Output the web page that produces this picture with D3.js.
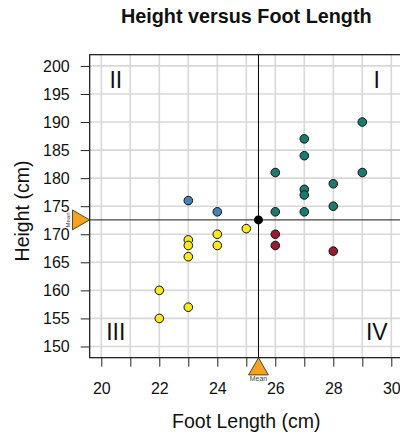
<!DOCTYPE html>
<html><head><meta charset="utf-8">
<script src="https://cdn.jsdelivr.net/npm/d3@7"></script>
<style>body{margin:0;background:#fff}svg{display:block}text{font-family:"Liberation Sans",Arial,sans-serif}</style>
</head><body>
<script>
const footLength = [23,24, 23,23,23,23,22,22,24,24,25, 26,26,27,27,27,27,27,28,28,29,29, 26,26,28];
const height     = [176,174, 169,168,166,157,160,155,170,168,171, 181,174,187,184,178,177,174,179,175,190,181, 170,168,167];
const meanFoot = 25.42, meanHeight = 172.56;
const xTicks = [20,21,22,23,24,25,26,27,28,29,30];
const xLabels = [20,22,24,26,28,30];
const yTicks = [150,155,160,165,170,175,180,185,190,195,200];
const quadLabels = ["I","II","III","IV"];
const quadPos = [[29.5,197.5],[20.5,197.5],[20.5,152.5],[29.5,152.5]];
const quadColors = {I:"#1b7a6d", II:"#4682b4", III:"#f8e81c", IV:"#9b1b30"};

const W=400,H=436;
const svg=d3.select("body").append("svg").attr("width",W).attr("height",H);
const x=d3.scaleLinear().domain([19.6,30.4]).range([89.7,402.9]);
const y=d3.scaleLinear().domain([148,202]).range([357.7,54.7]);
const L=x.range()[0],R=x.range()[1],T=y.range()[1],B=y.range()[0];

// grid
svg.append("g").selectAll("line").data(xTicks).join("line")
 .attr("x1",d=>x(d)).attr("x2",d=>x(d)).attr("y1",T).attr("y2",B)
 .attr("stroke","#d8d8d8").attr("stroke-width",1.6);
svg.append("g").selectAll("line").data(yTicks).join("line")
 .attr("y1",d=>y(d)).attr("y2",d=>y(d)).attr("x1",L).attr("x2",R)
 .attr("stroke","#d8d8d8").attr("stroke-width",1.6);

// quadrant labels
svg.append("g").selectAll("text").data(quadLabels).join("text")
 .attr("x",(d,i)=>x(quadPos[i][0])).attr("y",(d,i)=>y(quadPos[i][1]))
 .attr("text-anchor","middle").attr("dominant-baseline","central")
 .attr("font-size",23).attr("fill","#111").text(d=>d);

// mean lines
svg.append("line").attr("x1",L).attr("x2",R).attr("y1",y(meanHeight)).attr("y2",y(meanHeight))
 .attr("stroke","#444").attr("stroke-width",1.3);
svg.append("line").attr("x1",x(meanFoot)).attr("x2",x(meanFoot)).attr("y1",T).attr("y2",B)
 .attr("stroke","#000").attr("stroke-width",1);

// points
const quad=(fx,hy)=> hy>=meanHeight ? (fx>=meanFoot?"I":"II") : (fx<meanFoot?"III":"IV");
svg.append("g").selectAll("circle").data(footLength.map((f,i)=>({f,h:height[i]}))).join("circle")
 .attr("cx",d=>x(d.f)).attr("cy",d=>y(d.h)).attr("r",4.3)
 .attr("fill",d=>quadColors[quad(d.f,d.h)]).attr("stroke","#111").attr("stroke-width",1);
svg.append("circle").attr("cx",x(meanFoot)).attr("cy",y(meanHeight)).attr("r",4.5).attr("fill","#000");

// box
svg.append("rect").attr("x",L).attr("y",T).attr("width",R-L).attr("height",B-T)
 .attr("fill","none").attr("stroke","#111").attr("stroke-width",1.2);

// axes
const xa=svg.append("g").attr("transform",`translate(0,${B})`)
 .call(d3.axisBottom(x).tickValues(xTicks).tickSize(9).tickFormat(d=>xLabels.includes(d)?d:""));
const ya=svg.append("g").attr("transform",`translate(${L},0)`)
 .call(d3.axisLeft(y).tickValues(yTicks).tickSize(9).tickPadding(11));
[xa,ya].forEach(a=>{a.select(".domain").remove();a.selectAll("line").attr("stroke","#222");
 a.selectAll("text").attr("font-family","Liberation Sans, Arial, sans-serif").attr("font-size",16).attr("fill","#111");});
xa.selectAll("text").attr("dy","0.71em").attr("y",25);

// mean triangles
const tri=d3.symbol().type(d3.symbolTriangle).size(170);
svg.append("path").attr("d",tri()).attr("transform",`translate(${x(meanFoot)},${B+11.5})`)
 .attr("fill","#f6a21d").attr("stroke","#222").attr("stroke-width",0.8);
svg.append("path").attr("d",tri()).attr("transform",`translate(${L-11.5},${y(meanHeight)}) rotate(90)`)
 .attr("fill","#f6a21d").attr("stroke","#222").attr("stroke-width",0.8);
svg.append("text").attr("x",x(meanFoot)).attr("y",B+23.5).attr("text-anchor","middle")
 .attr("font-size",7).attr("fill","#444").text("Mean");
svg.append("text").attr("transform",`translate(${L-20},${y(meanHeight)}) rotate(-90)`).attr("text-anchor","middle")
 .attr("font-size",6).attr("fill","#444").text("Mean");

// titles
svg.append("text").attr("x",(L+R)/2).attr("y",22.7).attr("text-anchor","middle")
 .attr("font-size",19.8).attr("font-weight","bold").attr("fill","#111").text("Height versus Foot Length");
svg.append("text").attr("x",(L+R)/2).attr("y",428).attr("text-anchor","middle")
 .attr("font-size",19.5).attr("fill","#111").text("Foot Length (cm)");
svg.append("text").attr("transform",`translate(28.5,211) rotate(-90)`).attr("text-anchor","middle")
 .attr("font-size",19.5).attr("fill","#111").text("Height (cm)");
</script>
</body></html>
